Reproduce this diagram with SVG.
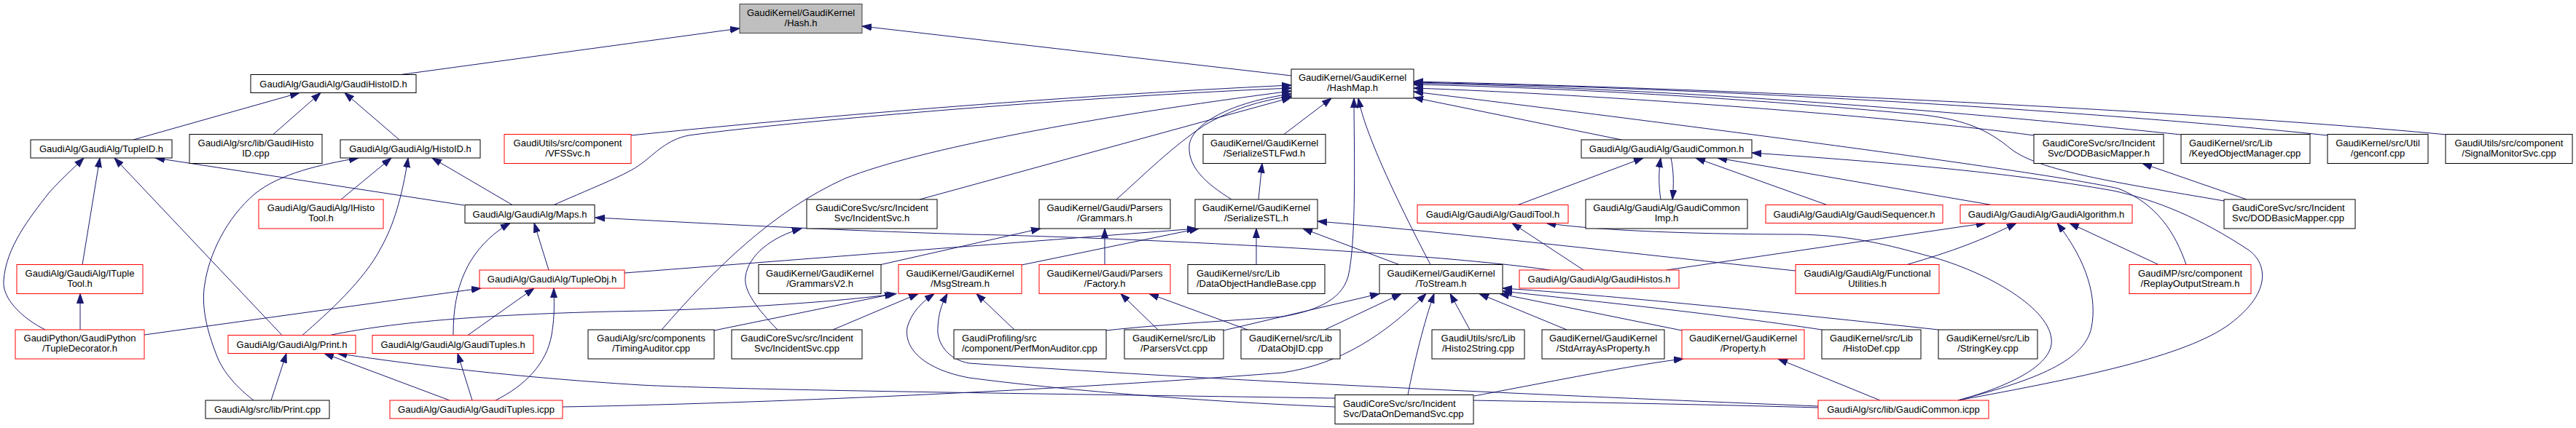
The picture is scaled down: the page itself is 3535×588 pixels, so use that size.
<svg xmlns="http://www.w3.org/2000/svg" width="3535" height="588" viewBox="0 0 3535 588">
<style>
rect.b{fill:#ffffff;stroke:#000000;stroke-width:1}
rect.r{fill:#ffffff;stroke:#ff0000;stroke-width:1}
rect.g{fill:#bfbfbf;stroke:#404040;stroke-width:1}
text{font-family:"Liberation Sans",Arial,Helvetica,sans-serif;font-size:13px;fill:#000000;text-anchor:middle}
text.l{text-anchor:start}
#edges path{fill:none;stroke:#191970;stroke-width:1;marker-end:url(#a)}
</style>
<defs>
<marker id="a" markerUnits="userSpaceOnUse" markerWidth="14" markerHeight="10" refX="13" refY="5" orient="auto">
<path d="M0,0.5 L13,5 L0,9.5 z" fill="#191970" stroke="#191970" stroke-width="1"/>
</marker>
</defs>
<rect x="0" y="0" width="3535" height="588" fill="#ffffff"/>
<g id="edges">
<path d="M550,102.5 L1015,39"/>
<path d="M1772,104 L1183,36"/>
<path d="M183,192 L411,127.5"/>
<path d="M375,184.5 L440,127.5"/>
<path d="M548,192 L473,127.5"/>
<path d="M113,363.5 L137,217"/>
<path d="M62,453 C30,437 3,410 5,386 C8,340 40,300 67,265 C85,245 100,232 115,217"/>
<path d="M387,460.5 L157,217"/>
<path d="M637,282 L213,217"/>
<path d="M468,274 L537,217"/>
<path d="M348,550 C318,527 304,505 298,490 C283,452 276,420 281,390 C287,350 310,300 350,266 C385,238 440,226 492,217"/>
<path d="M415,460.5 C450,430 500,385 523,340 C540,310 552,270 560,217"/>
<path d="M703,281.5 L593,217"/>
<path d="M198,460 L660,396"/>
<path d="M760,281.5 C820,255 860,240 880,225 C900,210 915,192 945,186 C1100,165 1500,132 1772,121"/>
<path d="M866,186 C1100,162 1450,132 1772,117"/>
<path d="M908,453 C980,370 1060,290 1160,245 C1260,205 1500,160 1772,125"/>
<path d="M1262,274 L1772,134"/>
<path d="M1532,274 C1570,240 1610,200 1653,172 C1690,150 1730,138 1772,132"/>
<path d="M1690,274 C1655,252 1630,230 1632,200 C1635,170 1690,140 1772,129"/>
<path d="M1762,184.5 L1827,135"/>
<path d="M1727,274 L1732,224.5"/>
<path d="M1209,363.5 L1428,314"/>
<path d="M857,375 L1642,314"/>
<path d="M1402,364 L1645,314"/>
<path d="M1516,363.5 L1516,314"/>
<path d="M1724,363.5 L1724,314"/>
<path d="M1920,363.5 L1788,314"/>
<path d="M1963,363.5 C1940,320 1905,250 1885,200 C1875,175 1868,155 1864,135"/>
<path d="M1518,454 C1600,445 1700,440 1760,435 C1800,428 1840,415 1850,380 C1862,330 1858,200 1858,135"/>
<path d="M1679,454 L1893,403.5"/>
<path d="M1818,453 L1923,403.5"/>
<path d="M1712,453 L1577,403.5"/>
<path d="M1589,453 L1538,403.5"/>
<path d="M1392,453 L1340,403.5"/>
<path d="M2017,453 L1990,403.5"/>
<path d="M2150,453 L2030,403.5"/>
<path d="M1932,542.5 C1940,500 1955,440 1968,403.5"/>
<path d="M772,559 C1000,555 1400,540 1760,512 C1840,500 1900,460 1957,403.5"/>
<path d="M2308,454 L2058,403.5"/>
<path d="M2500,453 C2350,430 2150,410 2062,400"/>
<path d="M2660,453 C2450,430 2200,405 2062,396"/>
<path d="M2023,544 C2150,520 2250,500 2310,493"/>
<path d="M2580,550 L2440,493"/>
<path d="M1832,559 C1650,552 1450,535 1330,519 C1270,508 1240,480 1245,450 C1250,430 1265,415 1282,403.5"/>
<path d="M2495,558 C2200,546 1700,525 1330,499 C1300,494 1285,470 1287,450 C1288,430 1292,418 1300,403.5"/>
<path d="M2495,560 C2000,546 1100,540 880,529 C700,518 560,500 463,485.5"/>
<path d="M617,550 L445,485.5"/>
<path d="M648,550 L628,485.5"/>
<path d="M680,550 C720,530 750,500 757,460 C762,430 760,410 760,396"/>
<path d="M642,460.5 L733,396"/>
<path d="M622,460.5 C622,420 628,390 645,360 C660,335 680,318 700,306.5"/>
<path d="M753,371 L733,306.5"/>
<path d="M372,550 L393,485.5"/>
<path d="M110,453 L110,403.5"/>
<path d="M453,460.5 C550,440 700,430 890,427 C1000,424 1150,415 1230,403.5"/>
<path d="M980,454 L1227,403.5"/>
<path d="M1143,453 L1260,403.5"/>
<path d="M1067,453 C1040,425 1020,400 1023,380 C1027,350 1060,325 1100,314"/>
<path d="M2127,371 C1950,345 1500,325 1330,322 C1100,315 900,303 817,299"/>
<path d="M2173,371 L2075,306.5"/>
<path d="M2287,371 L2725,306.5"/>
<path d="M2464,372 C2300,355 2000,320 1808,304"/>
<path d="M2617,363.5 C2680,345 2720,330 2767,306.5"/>
<path d="M2083,281.5 L2255,217"/>
<path d="M2687,550 C2760,530 2820,500 2815,465 C2810,420 2720,370 2640,350 C2580,333 2530,323 2467,322 C2350,322 2200,318 2122,306.5"/>
<path d="M2687,550 C2780,525 2860,500 2870,450 C2878,410 2865,360 2823,306.5"/>
<path d="M2687,550 C2850,520 3000,490 3060,445 C3120,400 3110,360 3085,343 C3020,300 2960,275 2900,262 C2750,235 2550,220 2404,210"/>
<path d="M2733,281.5 L2357,217"/>
<path d="M2507,281.5 L2327,217"/>
<path d="M2279,274 C2276,255 2276,235 2279,217"/>
<path d="M2293,217 C2297,235 2297,255 2295,274"/>
<path d="M2225,192 L1940,134"/>
<path d="M3000,363.5 C2985,320 2960,280 2907,259 C2800,235 2300,170 1940,126"/>
<path d="M2791,186 C2600,160 2200,130 1940,121"/>
<path d="M3052,276 C2900,250 2800,235 2760,205 C2730,180 2700,165 2640,158 C2450,140 2200,122 1940,116"/>
<path d="M2993,185 C2800,165 2400,125 1940,114"/>
<path d="M3194,186 C3000,165 2500,125 1940,113"/>
<path d="M3357,185 C3100,160 2500,125 1940,112"/>
<path d="M3083,274 L2940,224.5"/>
<path d="M2962,363.5 L2840,306.5"/>
</g>
<g id="hash"><rect class="g" x="1015" y="5.5" width="168" height="40"/><text x="1099" y="21.5">GaudiKernel/GaudiKernel</text><text x="1099" y="35.5">/Hash.h</text></g>
<g id="ghid_h"><rect class="b" x="344" y="102.5" width="227" height="25"/><text x="457.5" y="119.5">GaudiAlg/GaudiAlg/GaudiHistoID.h</text></g>
<g id="hashmap"><rect class="b" x="1772" y="95" width="168" height="40"/><text x="1856" y="111">GaudiKernel/GaudiKernel</text><text x="1856" y="125">/HashMap.h</text></g>
<g id="tupleid"><rect class="b" x="42" y="192" width="194" height="25"/><text x="139" y="209">GaudiAlg/GaudiAlg/TupleID.h</text></g>
<g id="ghid_cpp"><rect class="b" x="260" y="184.5" width="182" height="40"/><text x="351" y="200.5">GaudiAlg/src/lib/GaudiHisto</text><text x="351" y="214.5">ID.cpp</text></g>
<g id="histoid"><rect class="b" x="467" y="192" width="192" height="25"/><text x="563" y="209">GaudiAlg/GaudiAlg/HistoID.h</text></g>
<g id="vfssvc"><rect class="r" x="692" y="184.5" width="174" height="40"/><text x="779" y="200.5">GaudiUtils/src/component</text><text x="779" y="214.5">/VFSSvc.h</text></g>
<g id="stlfwd"><rect class="b" x="1651" y="184.5" width="168" height="40"/><text x="1735" y="200.5">GaudiKernel/GaudiKernel</text><text x="1735" y="214.5">/SerializeSTLFwd.h</text></g>
<g id="gcommon"><rect class="b" x="2170" y="192" width="234" height="25"/><text x="2287" y="209">GaudiAlg/GaudiAlg/GaudiCommon.h</text></g>
<g id="dodbm_h"><rect class="b" x="2791" y="184.5" width="178" height="40"/><text x="2880" y="200.5">GaudiCoreSvc/src/Incident</text><text x="2880" y="214.5">Svc/DODBasicMapper.h</text></g>
<g id="keyed"><rect class="b" x="2993" y="184.5" width="177" height="40"/><text class="l" x="3004" y="200.5">GaudiKernel/src/Lib</text><text class="l" x="3004" y="214.5">/KeyedObjectManager.cpp</text></g>
<g id="genconf"><rect class="b" x="3194" y="184.5" width="138" height="40"/><text x="3263" y="200.5">GaudiKernel/src/Util</text><text x="3263" y="214.5">/genconf.cpp</text></g>
<g id="signal"><rect class="b" x="3356" y="184.5" width="174" height="40"/><text x="3443" y="200.5">GaudiUtils/src/component</text><text x="3443" y="214.5">/SignalMonitorSvc.cpp</text></g>
<g id="ihisto"><rect class="r" x="355" y="274" width="171" height="40"/><text x="440.5" y="290">GaudiAlg/GaudiAlg/IHisto</text><text x="440.5" y="304">Tool.h</text></g>
<g id="maps"><rect class="b" x="638" y="281.5" width="178" height="25"/><text x="727" y="298.5">GaudiAlg/GaudiAlg/Maps.h</text></g>
<g id="incsvc_h"><rect class="b" x="1107" y="274" width="179" height="40"/><text x="1196.5" y="290">GaudiCoreSvc/src/Incident</text><text x="1196.5" y="304">Svc/IncidentSvc.h</text></g>
<g id="grammars"><rect class="b" x="1426" y="274" width="180" height="40"/><text x="1516" y="290">GaudiKernel/Gaudi/Parsers</text><text x="1516" y="304">/Grammars.h</text></g>
<g id="stl"><rect class="b" x="1640" y="274" width="168" height="40"/><text x="1724" y="290">GaudiKernel/GaudiKernel</text><text x="1724" y="304">/SerializeSTL.h</text></g>
<g id="gtool"><rect class="r" x="1945" y="281.5" width="207" height="25"/><text x="2048.5" y="298.5">GaudiAlg/GaudiAlg/GaudiTool.h</text></g>
<g id="gcimp"><rect class="b" x="2176" y="274" width="222" height="40"/><text x="2287" y="290">GaudiAlg/GaudiAlg/GaudiCommon</text><text x="2287" y="304">Imp.h</text></g>
<g id="gseq"><rect class="r" x="2423" y="281.5" width="243" height="25"/><text x="2544.5" y="298.5">GaudiAlg/GaudiAlg/GaudiSequencer.h</text></g>
<g id="galg"><rect class="r" x="2690" y="281.5" width="236" height="25"/><text x="2808" y="298.5">GaudiAlg/GaudiAlg/GaudiAlgorithm.h</text></g>
<g id="dodbm_cpp"><rect class="b" x="3052" y="274" width="180" height="40"/><text class="l" x="3063" y="290">GaudiCoreSvc/src/Incident</text><text class="l" x="3063" y="304">Svc/DODBasicMapper.cpp</text></g>
<g id="ituple"><rect class="r" x="23" y="363.5" width="173" height="40"/><text x="109.5" y="379.5">GaudiAlg/GaudiAlg/ITuple</text><text x="109.5" y="393.5">Tool.h</text></g>
<g id="tupleobj"><rect class="r" x="658" y="371" width="199" height="25"/><text x="757.5" y="388">GaudiAlg/GaudiAlg/TupleObj.h</text></g>
<g id="grv2"><rect class="b" x="1041" y="363.5" width="168" height="40"/><text x="1125" y="379.5">GaudiKernel/GaudiKernel</text><text x="1125" y="393.5">/GrammarsV2.h</text></g>
<g id="msg"><rect class="r" x="1233" y="363.5" width="169" height="40"/><text x="1317.5" y="379.5">GaudiKernel/GaudiKernel</text><text x="1317.5" y="393.5">/MsgStream.h</text></g>
<g id="factory"><rect class="r" x="1426" y="363.5" width="180" height="40"/><text x="1516" y="379.5">GaudiKernel/Gaudi/Parsers</text><text x="1516" y="393.5">/Factory.h</text></g>
<g id="dohb"><rect class="b" x="1630" y="363.5" width="188" height="40"/><text class="l" x="1642" y="379.5">GaudiKernel/src/Lib</text><text class="l" x="1642" y="393.5">/DataObjectHandleBase.cpp</text></g>
<g id="tostream"><rect class="b" x="1893" y="363.5" width="169" height="40"/><text x="1977.5" y="379.5">GaudiKernel/GaudiKernel</text><text x="1977.5" y="393.5">/ToStream.h</text></g>
<g id="ghistos"><rect class="r" x="2085" y="371" width="219" height="25"/><text x="2194.5" y="388">GaudiAlg/GaudiAlg/GaudiHistos.h</text></g>
<g id="func"><rect class="r" x="2464" y="363.5" width="197" height="40"/><text x="2562.5" y="379.5">GaudiAlg/GaudiAlg/Functional</text><text x="2562.5" y="393.5">Utilities.h</text></g>
<g id="replay"><rect class="r" x="2922" y="363.5" width="167" height="40"/><text x="3005.5" y="379.5">GaudiMP/src/component</text><text x="3005.5" y="393.5">/ReplayOutputStream.h</text></g>
<g id="tdeco"><rect class="r" x="21" y="453" width="177" height="40"/><text x="109.5" y="469">GaudiPython/GaudiPython</text><text x="109.5" y="483">/TupleDecorator.h</text></g>
<g id="print_h"><rect class="r" x="313" y="460.5" width="175" height="25"/><text x="400.5" y="477.5">GaudiAlg/GaudiAlg/Print.h</text></g>
<g id="gtuples_h"><rect class="r" x="511" y="460.5" width="221" height="25"/><text x="621.5" y="477.5">GaudiAlg/GaudiAlg/GaudiTuples.h</text></g>
<g id="timing"><rect class="b" x="807" y="453" width="173" height="40"/><text x="893.5" y="469">GaudiAlg/src/components</text><text x="893.5" y="483">/TimingAuditor.cpp</text></g>
<g id="incsvc_cpp"><rect class="b" x="1004" y="453" width="179" height="40"/><text x="1093.5" y="469">GaudiCoreSvc/src/Incident</text><text x="1093.5" y="483">Svc/IncidentSvc.cpp</text></g>
<g id="perfmon"><rect class="b" x="1309" y="453" width="209" height="40"/><text class="l" x="1320" y="469">GaudiProfiling/src</text><text class="l" x="1320" y="483">/component/PerfMonAuditor.cpp</text></g>
<g id="parsers"><rect class="b" x="1543" y="453" width="136" height="40"/><text x="1611" y="469">GaudiKernel/src/Lib</text><text x="1611" y="483">/ParsersVct.cpp</text></g>
<g id="dataobjid"><rect class="b" x="1703" y="453" width="136" height="40"/><text x="1771" y="469">GaudiKernel/src/Lib</text><text x="1771" y="483">/DataObjID.cpp</text></g>
<g id="h2s"><rect class="b" x="1965" y="453" width="127" height="40"/><text x="2028.5" y="469">GaudiUtils/src/Lib</text><text x="2028.5" y="483">/Histo2String.cpp</text></g>
<g id="stdarray"><rect class="b" x="2116" y="453" width="168" height="40"/><text x="2200" y="469">GaudiKernel/GaudiKernel</text><text x="2200" y="483">/StdArrayAsProperty.h</text></g>
<g id="property"><rect class="r" x="2308" y="453" width="168" height="40"/><text x="2392" y="469">GaudiKernel/GaudiKernel</text><text x="2392" y="483">/Property.h</text></g>
<g id="histodef"><rect class="b" x="2500" y="453" width="136" height="40"/><text x="2568" y="469">GaudiKernel/src/Lib</text><text x="2568" y="483">/HistoDef.cpp</text></g>
<g id="stringkey"><rect class="b" x="2660" y="453" width="136" height="40"/><text x="2728" y="469">GaudiKernel/src/Lib</text><text x="2728" y="483">/StringKey.cpp</text></g>
<g id="print_cpp"><rect class="b" x="282" y="550" width="170" height="25"/><text x="367" y="567">GaudiAlg/src/lib/Print.cpp</text></g>
<g id="gtuples_icpp"><rect class="r" x="535" y="550" width="237" height="25"/><text x="653.5" y="567">GaudiAlg/GaudiAlg/GaudiTuples.icpp</text></g>
<g id="dods"><rect class="b" x="1832" y="542.5" width="190" height="40"/><text class="l" x="1843" y="558.5">GaudiCoreSvc/src/Incident</text><text class="l" x="1843" y="572.5">Svc/DataOnDemandSvc.cpp</text></g>
<g id="gc_icpp"><rect class="r" x="2495" y="550" width="234" height="25"/><text x="2612" y="567">GaudiAlg/src/lib/GaudiCommon.icpp</text></g>
</svg>
